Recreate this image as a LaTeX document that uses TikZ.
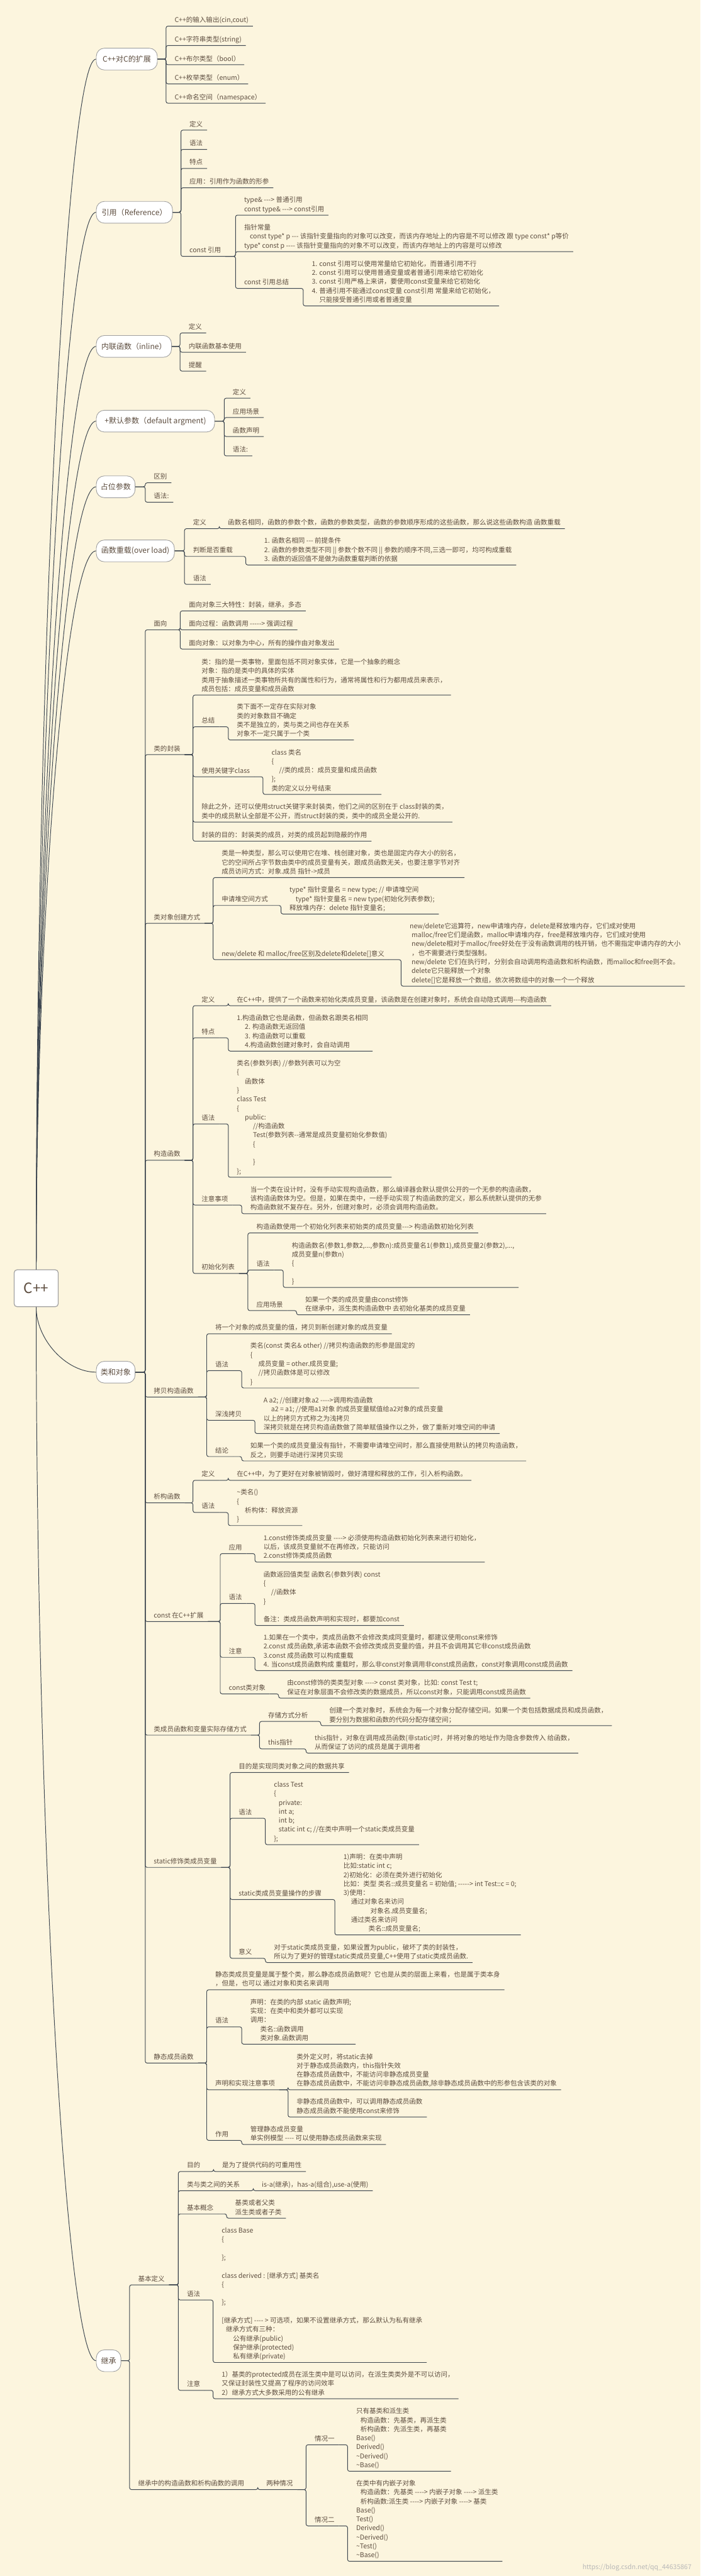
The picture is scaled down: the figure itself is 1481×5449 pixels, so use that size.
\documentclass[tikz,border=0pt]{standalone}
\usepackage{fontspec}
\newfontfamily\cjk{Noto Sans CJK SC}
\definecolor{paper}{HTML}{FCF5DE}
\definecolor{ink}{HTML}{5E4E40}
\definecolor{wire}{HTML}{3D4650}
\definecolor{rim}{HTML}{A0A0A0}
\newcommand{\ind}[1]{\hspace*{#1pt}}
\tikzset{
    every node/.style={text=ink},
    rootbox/.style={
        draw=rim,
        line width=1.6pt,
        fill=white,
        rounded corners=6pt,
        minimum width=93pt,
        minimum height=78pt,
        inner sep=0pt,
        font=\cjk\fontsize{30}{34}\selectfont
    },
    pill/.style={
        draw=rim,
        line width=1.2pt,
        fill=white,
        rounded corners=17pt,
        minimum height=46pt,
        inner xsep=0pt,
        anchor=west,
        font=\cjk\fontsize{16}{20}\selectfont
    },
    topic/.style={
        anchor=south west,
        xshift=9pt,
        inner xsep=9pt,
        inner ysep=2pt,
        align=left,
        font=\cjk\fontsize{14}{19}\selectfont,
        execute at end node={\strut}
    },
    trunk/.style={draw=wire, line width=1.3pt},
    branch/.style={draw=wire, line width=1.3pt, rounded corners=4pt},
    fork/.style={to path={-- ([xshift=-9pt]\tikztostart -| \tikztotarget.south west) |- (\tikztotarget.south west) -- (\tikztotarget.south east)}}
}

\begin{document}
\begin{tikzpicture}[x=1pt, y=-1pt]
    \useasboundingbox (0,0) rectangle (1481,5449);
    \fill[paper] (0,0) rectangle (1481,5449);

    % Root and main topics
    \node[rootbox] (root) at (76.5,2725) {C++};
    \node[pill, minimum width=129pt] (ext) at (203,125) {C++对C的扩展};
    \node[pill, minimum width=161pt] (ref) at (203,449) {引用（Reference）};
    \node[pill, minimum width=159pt] (inl) at (203,732.7) {内联函数（inline）};
    \node[pill, minimum width=250pt] (dflt) at (203,890.8) {+默认参数（default argment)};
    \node[pill, minimum width=82pt] (hold) at (203,1029.7) {占位参数};
    \node[pill, minimum width=165pt] (ovl) at (203,1165.3) {函数重载(over load)};
    \node[pill, minimum width=82pt] (cls) at (203,2902.5) {类和对象};
    \node[pill, minimum width=52pt] (inh) at (203,4993.6) {继承};

    % Curves from the root
    \foreach \n/\d in {ext/-1280,ref/-1118,inl/-976,dflt/-898,hold/-828,ovl/-760}
        \draw[trunk] (root.north) .. controls +(0,\d) and +(-63,0) .. (\n.west);
    \foreach \n/\d in {cls/69,inh/1115}
        \draw[trunk] (root.south) .. controls +(0,\d) and +(-63,0) .. (\n.west);

    % C++ extensions of C
    \node[topic] (extIo) at (351,55.3) {C++的输入输出(cin,cout)};
    \node[topic] (extStr) at (351,96.3) {C++字符串类型(string)};
    \node[topic] (extBool) at (351,137) {C++布尔类型（bool）};
    \node[topic] (extEnum) at (351,177.3) {C++枚举类型（enum）};
    \node[topic] (extNs) at (351,218.3) {C++命名空间（namespace）};
    \foreach \c in {extIo,extStr,extBool,extEnum,extNs}
        \draw[branch] (ext.east) to[fork] (\c);

    % Reference
    \node[topic] (refDef) at (382.5,275.3) {定义};
    \node[topic] (refSyn) at (382.5,316) {语法};
    \node[topic] (refFeat) at (382.5,356.3) {特点};
    \node[topic] (refUse) at (382.5,397.3) {应用：引用作为函数的形参};
    \node[topic] (refConst) at (382.5,542.3) {const 引用};
    \node[topic] (refKinds) at (498,455) {type\& ---> 普通引用\\const type\& ---> const引用};
    \node[topic] (refPtr) at (498,532.3) {指针常量\\\ind{12}const type* p --- 该指针变量指向的对象可以改变，而该内存地址上的内容是不可以修改 跟  type const* p等价\\type* const p ---- 该指针变量指向的对象不可以改变，而该内存地址上的内容是可以修改};
    \node[topic] (refSum) at (498,610) {const 引用总结};
    \node[topic] (refSumTxt) at (641,647) {1. const 引用可以使用常量给它初始化，而普通引用不行\\2. const 引用可以使用普通变量或者普通引用来给它初始化\\3. const 引用严格上来讲，要使用const变量来给它初始化\\4. 普通引用不能通过const变量 const引用 常量来给它初始化，\\\ind{16}只能接受普通引用或者普通变量};
    \foreach \c in {refDef,refSyn,refFeat,refUse,refConst}
        \draw[branch] (ref.east) to[fork] (\c);
    \foreach \c in {refKinds,refPtr,refSum}
        \draw[branch] (refConst.south east) to[fork] (\c);
    \draw[branch] (refSum.south east) to[fork] (refSumTxt);

    % Inline functions
    \node[topic] (inlDef) at (380.6,704.3) {定义};
    \node[topic] (inlUse) at (380.6,745) {内联函数基本使用};
    \node[topic] (inlTip) at (380.6,785) {提醒};
    \foreach \c in {inlDef,inlUse,inlTip}
        \draw[branch] (inl.east) to[fork] (\c);

    % Default arguments
    \node[topic] (dfltDef) at (474,842.3) {定义};
    \node[topic] (dfltScene) at (474,883.3) {应用场景};
    \node[topic] (dfltDecl) at (474,923.3) {函数声明};
    \node[topic] (dfltSyn) at (474,964.3) {语法:};
    \foreach \c in {dfltDef,dfltScene,dfltDecl,dfltSyn}
        \draw[branch] (dflt.east) to[fork] (\c);

    % Placeholder arguments
    \node[topic] (holdDiff) at (307,1021.3) {区别};
    \node[topic] (holdSyn) at (307,1062.3) {语法:};
    \foreach \c in {holdDiff,holdSyn}
        \draw[branch] (hold.east) to[fork] (\c);

    % Overloading
    \node[topic] (ovlDef) at (390,1118.3) {定义};
    \node[topic] (ovlDefTxt) at (463.7,1118.3) {函数名相同，函数的参数个数，函数的参数类型，函数的参数顺序形成的这些函数，那么说这些函数构造 函数重载};
    \node[topic] (ovlJudge) at (390,1177) {判断是否重载};
    \node[topic] (ovlJudgeTxt) at (519.5,1195) {\ind{21}1. 函数名相同 --- 前提条件\\\ind{21}2. 函数的参数类型不同 || 参数个数不同 || 参数的顺序不同,三选一即可，均可构成重载\\\ind{21}3. 函数的返回值不是做为函数重载判断的依据};
    \node[topic] (ovlSyn) at (390,1236) {语法};
    \foreach \c in {ovlDef,ovlJudge,ovlSyn}
        \draw[branch] (ovl.east) to[fork] (\c);
    \draw[branch] (ovlDef.south east) to[fork] (ovlDefTxt);
    \draw[branch] (ovlJudge.south east) to[fork] (ovlJudgeTxt);

    % Classes and objects
    \node[topic] (clsFace) at (307,1332.3) {面向};
    \node[topic] (faceThree) at (381,1292.3) {面向对象三大特性：封装，继承，多态};
    \node[topic] (faceProc) at (381,1332.3) {面向过程：函数调用 -----> 强调过程};
    \node[topic] (faceObj) at (381,1373) {面向对象：以对象为中心，所有的操作由对象发出};
    \foreach \c in {faceThree,faceProc,faceObj}
        \draw[branch] (clsFace.south east) to[fork] (\c);

    \node[topic] (clsWrap) at (307,1596.3) {类的封装};
    \node[topic] (wrapDef) at (408,1470.3) {类：指的是一类事物，里面包括不同对象实体，它是一个抽象的概念\\对象：指的是类中的具体的实体\\类用于抽象描述一类事物所共有的属性和行为，通常将属性和行为都用成员来表示，\\成员包括：成员变量和成员函数};
    \node[topic] (wrapSum) at (408,1537.3) {总结};
    \node[topic] (wrapSumTxt) at (482.6,1565.3) {类下面不一定存在实际对象\\类的对象数目不确定\\类不是独立的，类与类之间也存在关系\\对象不一定只属于一个类};
    \node[topic] (wrapKey) at (408,1643) {使用关键字class};
    \node[topic] (wrapKeyTxt) at (556,1680.3) {class 类名\\\{\\\ind{16}//类的成员：成员变量和成员函数\\\};\\类的定义以分号结束};
    \node[topic] (wrapStruct) at (408,1739) {除此之外，还可以使用struct关键字来封装类，他们之间的区别在于 class封装的类，\\类中的成员默认全部是不公开，而struct封装的类，类中的成员全是公开的.};
    \node[topic] (wrapAim) at (408,1779.3) {封装的目的：封装类的成员，对类的成员起到隐蔽的作用};
    \foreach \c in {wrapDef,wrapSum,wrapKey,wrapStruct,wrapAim}
        \draw[branch] (clsWrap.south east) to[fork] (\c);
    \draw[branch] (wrapSum.south east) to[fork] (wrapSumTxt);
    \draw[branch] (wrapKey.south east) to[fork] (wrapKeyTxt);

    \node[topic] (clsNew) at (307,1953) {类对象创建方式};
    \node[topic] (newType) at (450.5,1856.3) {类是一种类型，那么可以使用它在堆、栈创建对象，类也是固定内存大小的别名，\\它的空间所占字节数由类中的成员变量有关，跟成员函数无关，也要注意字节对齐\\成员访问方式：对象.成员  指针->成员};
    \node[topic] (newHeap) at (450.5,1915.3) {申请堆空间方式};
    \node[topic] (newHeapTxt) at (594,1933.3) {type* 指针变量名 = new type; // 申请堆空间\\\ind{13}type* 指针变量名 = new type(初始化列表参数);\\释放堆内存：delete 指针变量名;};
    \node[topic] (newDiff) at (450.5,2030) {new/delete 和 malloc/free区别及delete和delete[]意义};
    \node[topic] (newDiffTxt) at (848,2086) {new/delete它运算符，new申请堆内存，delete是释放堆内存，它们成对使用\\\ind{4}malloc/free它们是函数，malloc申请堆内存，free是释放堆内存，它们成对使用\\\ind{4}new/delete相对于malloc/free好处在于没有函数调用的栈开销，也不需指定申请内存的大小\\\ind{4}，也不需要进行类型强制。\\\ind{4}new/delete 它们在执行时，分别会自动调用构造函数和析构函数，而malloc和free则不会。\\\ind{4}delete它只能释放一个对象\\\ind{4}delete[]它是释放一个数组，依次将数组中的对象一个一个释放};
    \foreach \c in {newType,newHeap,newDiff}
        \draw[branch] (clsNew.south east) to[fork] (\c);
    \draw[branch] (newHeap.south east) to[fork] (newHeapTxt);
    \draw[branch] (newDiff.south east) to[fork] (newDiffTxt);

    \node[topic] (clsCtor) at (307,2454.3) {构造函数};
    \node[topic] (ctorDef) at (408,2127.3) {定义};
    \node[topic] (ctorDefTxt) at (482.6,2127.3) {在C++中，提供了一个函数来初始化类成员变量，该函数是在创建对象时，系统会自动隐式调用---构造函数};
    \node[topic] (ctorFeat) at (408,2195.3) {特点};
    \node[topic] (ctorFeatTxt) at (482.6,2223.3) {1.构造函数它也是函数，但函数名跟类名相同\\\ind{17}2. 构造函数无返回值\\\ind{17}3. 构造函数可以重载\\\ind{17}4.构造函数创建对象时，会自动调用};
    \node[topic] (ctorSyn) at (408,2377.3) {语法};
    \node[topic] (ctorSynTxt) at (482.6,2490.3) {类名(参数列表) //参数列表可以为空\\\{\\\ind{17}函数体\\\}\\class Test\\\{\\\ind{17}public:\\\ind{34}//构造函数\\\ind{34}Test(参数列表--通常是成员变量初始化参数值)\\\ind{34}\{\\ \\\ind{34}\}\\\};};
    \node[topic] (ctorNote) at (408,2549) {注意事项};
    \node[topic] (ctorNoteTxt) at (511,2567.3) {当一个类在设计时，没有手动实现构造函数，那么编译器会默认提供公开的一个无参的构造函数，\\该构造函数体为空。但是，如果在类中，一经手动实现了构造函数的定义，那么系统默认提供的无参\\构造函数就不复存在。另外，创建对象时，必须会调用构造函数。};
    \node[topic] (ctorInit) at (408,2693.7) {初始化列表};
    \node[topic] (initDesc) at (524,2608) {构造函数使用一个初始化列表来初始类的成员变量---> 构造函数初始化列表};
    \node[topic] (initSyn) at (524,2686.3) {语法};
    \node[topic] (initSynTxt) at (598.8,2723.3) {构造函数名(参数1,参数2,...,参数n):成员变量名1(参数1),成员变量2(参数2),...,\\成员变量n(参数n)\\\{\\ \\\}};
    \node[topic] (initScene) at (524,2772.3) {应用场景};
    \node[topic] (initSceneTxt) at (627,2781.3) {如果一个类的成员变量由const修饰\\在继承中，派生类构造函数中 去初始化基类的成员变量};
    \foreach \c in {ctorDef,ctorFeat,ctorSyn,ctorNote,ctorInit}
        \draw[branch] (clsCtor.south east) to[fork] (\c);
    \draw[branch] (ctorDef.south east) to[fork] (ctorDefTxt);
    \draw[branch] (ctorFeat.south east) to[fork] (ctorFeatTxt);
    \draw[branch] (ctorSyn.south east) to[fork] (ctorSynTxt);
    \draw[branch] (ctorNote.south east) to[fork] (ctorNoteTxt);
    \foreach \c in {initDesc,initSyn,initScene}
        \draw[branch] (ctorInit.south east) to[fork] (\c);
    \draw[branch] (initSyn.south east) to[fork] (initSynTxt);
    \draw[branch] (initScene.south east) to[fork] (initSceneTxt);

    \node[topic] (clsCopy) at (307,2955) {拷贝构造函数};
    \node[topic] (copyDef) at (437,2821.3) {将一个对象的成员变量的值，拷贝到新创建对象的成员变量};
    \node[topic] (copySyn) at (437,2899.3) {语法};
    \node[topic] (copySynTxt) at (511,2936) {类名(const 类名\& other) //拷贝构造函数的形参是固定的\\\{\\\ind{17}成员变量 = other.成员变量;\\\ind{17}//拷贝函数体是可以修改\\\}};
    \node[topic] (copyDeep) at (437,3004.3) {深浅拷贝};
    \node[topic] (copyDeepTxt) at (539,3032.3) {A a2; //创建对象a2 ---->调用构造函数\\\ind{16}a2 = a1; //使用a1对象 的成员变量赋值给a2对象的成员变量\\以上的拷贝方式称之为浅拷贝\\深拷贝就是在拷贝构造函数做了简单赋值操作以之外，做了重新对堆空间的申请};
    \node[topic] (copyEnd) at (437,3081) {结论};
    \node[topic] (copyEndTxt) at (511,3090.3) {如果一个类的成员变量没有指针，不需要申请堆空间时，那么直接使用默认的拷贝构造函数，\\反之，则要手动进行深拷贝实现};
    \foreach \c in {copyDef,copySyn,copyDeep,copyEnd}
        \draw[branch] (clsCopy.south east) to[fork] (\c);
    \draw[branch] (copySyn.south east) to[fork] (copySynTxt);
    \draw[branch] (copyDeep.south east) to[fork] (copyDeepTxt);
    \draw[branch] (copyEnd.south east) to[fork] (copyEndTxt);

    \node[topic] (clsDtor) at (307,3179) {析构函数};
    \node[topic] (dtorDef) at (408,3131.3) {定义};
    \node[topic] (dtorDefTxt) at (482.6,3131.3) {在C++中，为了更好在对象被销毁时，做好清理和释放的工作，引入析构函数。};
    \node[topic] (dtorSyn) at (408,3199.3) {语法};
    \node[topic] (dtorSynTxt) at (482.6,3227) {\textasciitilde 类名()\\\{\\\ind{17}析构体：释放资源\\\}};
    \foreach \c in {dtorDef,dtorSyn}
        \draw[branch] (clsDtor.south east) to[fork] (\c);
    \draw[branch] (dtorDef.south east) to[fork] (dtorDefTxt);
    \draw[branch] (dtorSyn.south east) to[fork] (dtorSynTxt);

    \node[topic] (clsConst) at (307,3430) {const 在C++扩展};
    \node[topic] (cstUse) at (465.6,3286.3) {应用};
    \node[topic] (cstUseTxt) at (539,3304.3) {1.const修饰类成员变量 ----> 必须使用构造函数初始化列表来进行初始化，\\以后，该成员变量就不在再修改，只能访问\\2.const修饰类成员函数};
    \node[topic] (cstSyn) at (465.6,3391.7) {语法};
    \node[topic] (cstSynTxt) at (539,3438.3) {函数返回值类型 函数名(参数列表) const\\\{\\\ind{16}//函数体\\\}\\ \\备注：类成员函数声明和实现时，都要加const};
    \node[topic] (cstNote) at (465.6,3505.7) {注意};
    \node[topic] (cstNoteTxt) at (539,3533.7) {1.如果在一个类中，类成员函数不会修改类成同变量时，都建议使用const来修饰\\2.const 成员函数,承诺本函数不会修改类成员变量的值，并且不会调用其它非const成员函数\\3.const 成员函数可以构成重载\\4. 当const成员函数构成 重载时，那么非const对象调用非const成员函数，const对象调用const成员函数};
    \node[topic] (cstObj) at (465.6,3583) {const类对象};
    \node[topic] (cstObjTxt) at (589,3592) {由const修饰的类类型对象 ----> const 类对象，比如: const Test t;\\保证在对象层面不会修改类的数据成员，所以const对象，只能调用const成员函数};
    \foreach \c in {cstUse,cstSyn,cstNote,cstObj}
        \draw[branch] (clsConst.south east) to[fork] (\c);
    \draw[branch] (cstUse.south east) to[fork] (cstUseTxt);
    \draw[branch] (cstSyn.south east) to[fork] (cstSynTxt);
    \draw[branch] (cstNote.south east) to[fork] (cstNoteTxt);
    \draw[branch] (cstObj.south east) to[fork] (cstObjTxt);

    \node[topic] (clsStore) at (307,3670.3) {类成员函数和变量实际存储方式};
    \node[topic] (storeHow) at (548.7,3641.3) {存储方式分析};
    \node[topic] (storeHowTxt) at (678,3650.3) {创建一个类对象时，系统会为每一个对象分配存储空间。如果一个类包括数据成员和成员函数，\\要分别为数据和函数的代码分配存储空间；};
    \node[topic] (storeThis) at (548.7,3699.3) {this指针};
    \node[topic] (storeThisTxt) at (647,3708.3) {this指针，对象在调用成员函数(非static)时，并将对象的地址作为隐含参数传入 给函数，\\从而保证了访问的成员是属于调用者};
    \foreach \c in {storeHow,storeThis}
        \draw[branch] (clsStore.south east) to[fork] (\c);
    \draw[branch] (storeHow.south east) to[fork] (storeHowTxt);
    \draw[branch] (storeThis.south east) to[fork] (storeThisTxt);

    \node[topic] (clsStatic) at (307,3950) {static修饰类成员变量};
    \node[topic] (statAim) at (486.4,3749.3) {目的是实现同类对象之间的数据共享};
    \node[topic] (statSyn) at (486.4,3846) {语法};
    \node[topic] (statSynTxt) at (561,3902) {class Test\\\{\\\ind{10}private:\\\ind{10}int a;\\\ind{10}int b;\\\ind{10}static int c;  //在类中声明一个static类成员变量\\\};};
    \node[topic] (statStep) at (486.4,4018) {static类成员变量操作的步骤};
    \node[topic] (statStepTxt) at (708,4093) {1)声明：在类中声明\\比如:static int c;\\2)初始化：必须在类外进行初始化\\比如：类型 类名::成员变量名 = 初始值; -----> int Test::c = 0;\\3)使用：\\\ind{16}通过对象名来访问\\\ind{57}对象名.成员变量名;\\\ind{16}通过类名来访问\\\ind{53}类名::成员变量名;};
    \node[topic] (statMean) at (486.4,4142.3) {意义};
    \node[topic] (statMeanTxt) at (561,4151.3) {对于static类成员变量，如果设置为public，破坏了类的封装性，\\所以为了更好的管理static类成员变量,C++使用了static类成员函数.};
    \foreach \c in {statAim,statSyn,statStep,statMean}
        \draw[branch] (clsStatic.south east) to[fork] (\c);
    \draw[branch] (statSyn.south east) to[fork] (statSynTxt);
    \draw[branch] (statStep.south east) to[fork] (statStepTxt);
    \draw[branch] (statMean.south east) to[fork] (statMeanTxt);

    \node[topic] (clsSfun) at (307,4364) {静态成员函数};
    \node[topic] (sfunDef) at (437,4209) {静态类成员变量是属于整个类，那么静态成员函数呢？它也是从类的层面上来看，也是属于类本身\\，但是，也可以 通过对象和类名来调用};
    \node[topic] (sfunSyn) at (437,4287.3) {语法};
    \node[topic] (sfunSynTxt) at (511,4324) {声明：在类的内部  static 函数声明;\\实现：在类中和类外都可以实现\\调用：\\\ind{21}类名::函数调用\\\ind{21}类对象.函数调用};
    \node[topic] (sfunNote) at (437,4420.5) {声明和实现注意事项};
    \node[topic] (sfunNoteA) at (609,4420.5) {类外定义时，将static去掉\\对于静态成员函数内，this指针失效\\在静态成员函数中，不能访问非静态成员变量\\在静态成员函数中，不能访问非静态成员函数,除非静态成员函数中的形参包含该类的对象};
    \node[topic] (sfunNoteB) at (609,4478.1) {非静态成员函数中，可以调用静态成员函数\\静态成员函数不能使用const来修饰};
    \node[topic] (sfunRole) at (437,4527.5) {作用};
    \node[topic] (sfunRoleTxt) at (511,4536.2) {管理静态成员变量\\单实例模型 ---- 可以使用静态成员函数来实现};
    \foreach \c in {sfunDef,sfunSyn,sfunNote,sfunRole}
        \draw[branch] (clsSfun.south east) to[fork] (\c);
    \draw[branch] (sfunSyn.south east) to[fork] (sfunSynTxt);
    \foreach \c in {sfunNoteA,sfunNoteB}
        \draw[branch] (sfunNote.south east) to[fork] (\c);
    \draw[branch] (sfunRole.south east) to[fork] (sfunRoleTxt);

    \foreach \c in {clsFace,clsWrap,clsNew,clsCtor,clsCopy,clsDtor,clsConst,clsStore,clsStatic,clsSfun}
        \draw[branch] (cls.east) to[fork] (\c);

    % Inheritance
    \node[topic] (inhBase) at (274,4833.1) {基本定义};
    \node[topic] (baseAim) at (377,4593.4) {目的};
    \node[topic] (baseAimTxt) at (451.4,4593.4) {是为了提供代码的可重用性};
    \node[topic] (baseRel) at (377,4633.9) {类与类之间的关系};
    \node[topic] (baseRelTxt) at (535.5,4633.9) {is-a(继承)，has-a(组合),use-a(使用)};
    \node[topic] (baseIdea) at (377,4683) {基本概念};
    \node[topic] (baseIdeaTxt) at (479,4692.1) {基类或者父类\\派生类或者子类};
    \node[topic] (baseSyn) at (377,4865.2) {语法};
    \node[topic] (baseSynTxt) at (450.5,4997.3) {class Base\\\{\\ \\\};\\ \\class derived : [继承方式] 基类名\\\{\\ \\\};\\ \\{}[继承方式] ---- > 可选项，如果不设置继承方式，那么默认为私有继承\\\ind{9}继承方式有三种：\\\ind{24}公有继承(public)\\\ind{24}保护继承(protected)\\\ind{24}私有继承(private)};
    \node[topic] (baseNote) at (377,5056.2) {注意};
    \node[topic] (baseNoteTxt) at (450.5,5074) {1）基类的protected成员在派生类中是可以访问，在派生类类外是不可以访问，\\又保证封装性又提高了程序的访问效率\\2）继承方式大多数采用的公有继承};
    \foreach \c in {baseAim,baseRel,baseIdea,baseSyn,baseNote}
        \draw[branch] (inhBase.south east) to[fork] (\c);
    \draw[branch] (baseAim.south east) to[fork] (baseAimTxt);
    \draw[branch] (baseRel.south east) to[fork] (baseRelTxt);
    \draw[branch] (baseIdea.south east) to[fork] (baseIdeaTxt);
    \draw[branch] (baseSyn.south east) to[fork] (baseSynTxt);
    \draw[branch] (baseNote.south east) to[fork] (baseNoteTxt);

    \node[topic] (inhCall) at (274,5266.2) {继承中的构造函数和析构函数的调用};
    \node[topic] (inhTwo) at (545,5266.2) {两种情况};
    \node[topic] (caseOne) at (647,5171.4) {情况一};
    \node[topic] (caseOneTxt) at (734.8,5227.4) {只有基类和派生类\\\ind{9}构造函数：先基类，再派生类\\\ind{9}析构函数：先派生类，再基类\\Base()\\Derived()\\\textasciitilde Derived()\\\textasciitilde Base()};
    \node[topic] (caseTwo) at (647,5342.9) {情况二};
    \node[topic] (caseTwoTxt) at (734.8,5417.9) {在类中有内嵌子对象\\\ind{9}构造函数：先基类 ----> 内嵌子对象 ----> 派生类\\\ind{9}析构函数:派生类 ----> 内嵌子对象 ----> 基类\\Base()\\Test()\\Derived()\\\textasciitilde Derived()\\\textasciitilde Test()\\\textasciitilde Base()};
    \draw[branch] (inhCall.south east) to[fork] (inhTwo);
    \foreach \c in {caseOne,caseTwo}
        \draw[branch] (inhTwo.south east) to[fork] (\c);
    \draw[branch] (caseOne.south east) to[fork] (caseOneTxt);
    \draw[branch] (caseTwo.south east) to[fork] (caseTwoTxt);

    \foreach \c in {inhBase,inhCall}
        \draw[branch] (inh.east) to[fork] (\c);

    % Watermark
    \node[anchor=west, font=\cjk\fontsize{14}{16}\selectfont, text=black!28] (mark) at (1228,5431.5) {https://blog.csdn.net/qq\_44635867};
\end{tikzpicture}
\end{document}
